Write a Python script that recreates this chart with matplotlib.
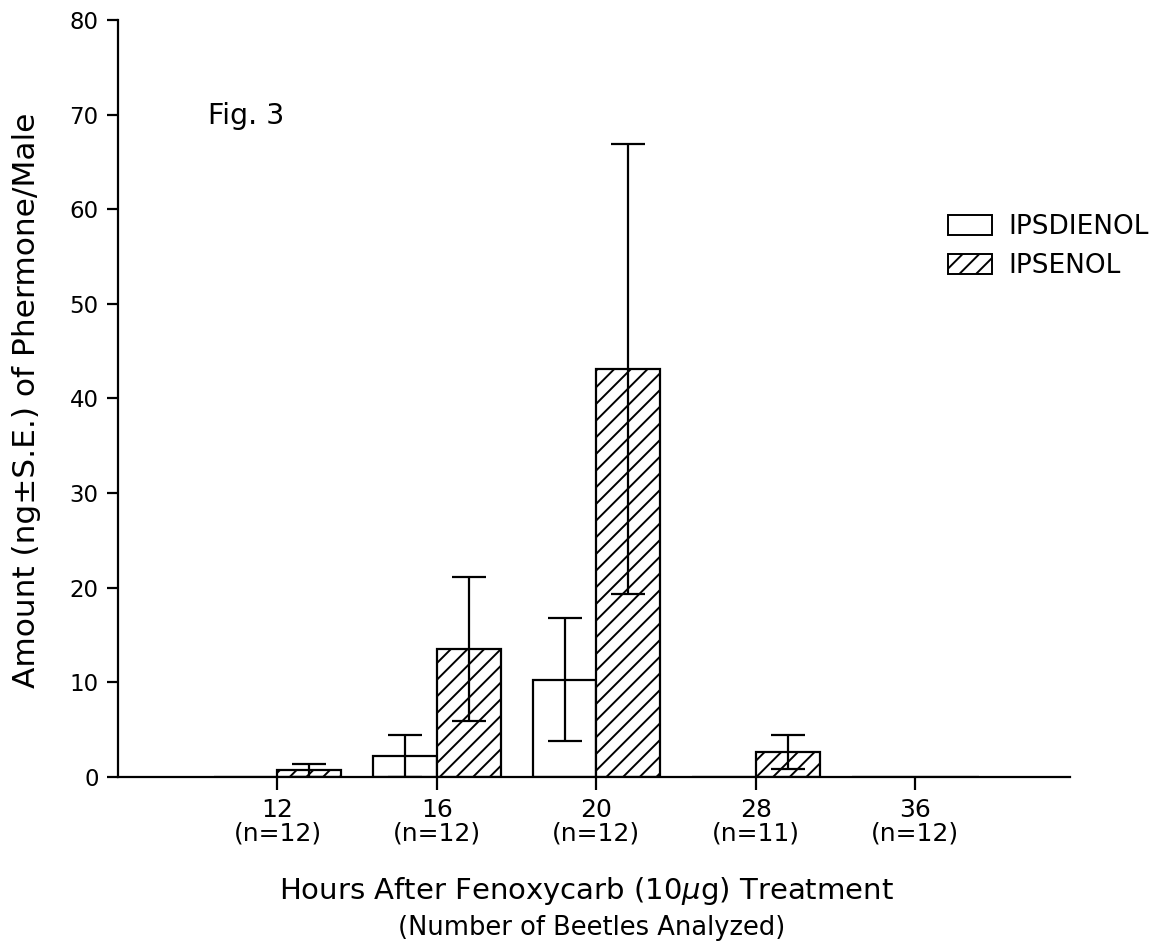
import numpy as np
import matplotlib
matplotlib.use("Agg")
import matplotlib.pyplot as plt
from matplotlib.patches import Patch

plt.rcParams['font.family'] = ['DejaVu Sans']
plt.rcParams['hatch.linewidth'] = 1.4

# data
hours = ['12', '16', '20', '28', '36']
n_beetles = [12, 12, 12, 11, 12]
ipsdienol = [0, 2.2, 10.3, 0, 0]
ipsdienol_se = [0, 2.2, 6.5, 0, 0]
ipsenol = [0.7, 13.5, 43.1, 2.6, 0]
ipsenol_se = [0.7, 7.6, 23.8, 1.8, 0]

x = np.arange(len(hours))
w = 0.4

fig = plt.figure(figsize=(11.72, 9.47), dpi=100)
ax = fig.add_axes([0.1007, 0.1795, 0.8123, 0.7994])

ax.bar(x - w / 2, ipsdienol, w, color='white', edgecolor='black', linewidth=1.6)
ax.bar(x + w / 2, ipsenol, w, color='white', edgecolor='black', linewidth=1.6, hatch='//')

# error bars only where there is something measured
d = np.array(ipsdienol) > 0
e = np.array(ipsenol) > 0
ax.errorbar((x - w / 2)[d], np.array(ipsdienol)[d], yerr=np.array(ipsdienol_se)[d],
            fmt='none', ecolor='black', elinewidth=1.6, capsize=12, capthick=1.6, zorder=5)
ax.errorbar((x + w / 2)[e], np.array(ipsenol)[e], yerr=np.array(ipsenol_se)[e],
            fmt='none', ecolor='black', elinewidth=1.6, capsize=12, capthick=1.6, zorder=5)

ax.set_xlim(-1, 4.97)
ax.set_ylim(0, 80)
ax.set_yticks(range(0, 81, 10))
ax.set_xticks(x)
ax.set_xticklabels([f"{h}\n(n={n})" for h, n in zip(hours, n_beetles)],
                   fontsize=18, linespacing=1.0)
ax.tick_params(axis='y', labelsize=16.5, length=8, width=1.6, direction='out', pad=6)
ax.tick_params(axis='x', length=9, width=1.6, direction='out', pad=6)

for s in ['top', 'right']:
    ax.spines[s].set_visible(False)
for s in ['left', 'bottom']:
    ax.spines[s].set_linewidth(1.6)

fig.text(27 / 1172, 1 - 400 / 947, "Amount (ng±S.E.) of Phermone/Male",
         fontsize=22.5, rotation=90, ha='center', va='center')
ax.text(-0.436, 69.9, "Fig. 3", fontsize=20.5, va='center', ha='left')

fig.text(0.5, 1 - 891 / 947, "Hours After Fenoxycarb (10$\\mu$g) Treatment",
         fontsize=21, ha='center', va='center')
fig.text(0.505, 1 - 928 / 947, "(Number of Beetles Analyzed)",
         fontsize=18.5, ha='center', va='center')

handles = [Patch(facecolor='white', edgecolor='black', linewidth=1.4),
           Patch(facecolor='white', edgecolor='black', linewidth=1.4, hatch='//')]
fig.legend(handles, ['IPSDIENOL', 'IPSENOL'], loc='upper left',
           bbox_to_anchor=(948 / 1172, 1 - 214 / 947), frameon=False, fontsize=19,
           handlelength=1.67, handleheight=0.8, labelspacing=0.5, handletextpad=0.6,
           borderpad=0, borderaxespad=0)

fig.savefig("out.png", dpi=100)
